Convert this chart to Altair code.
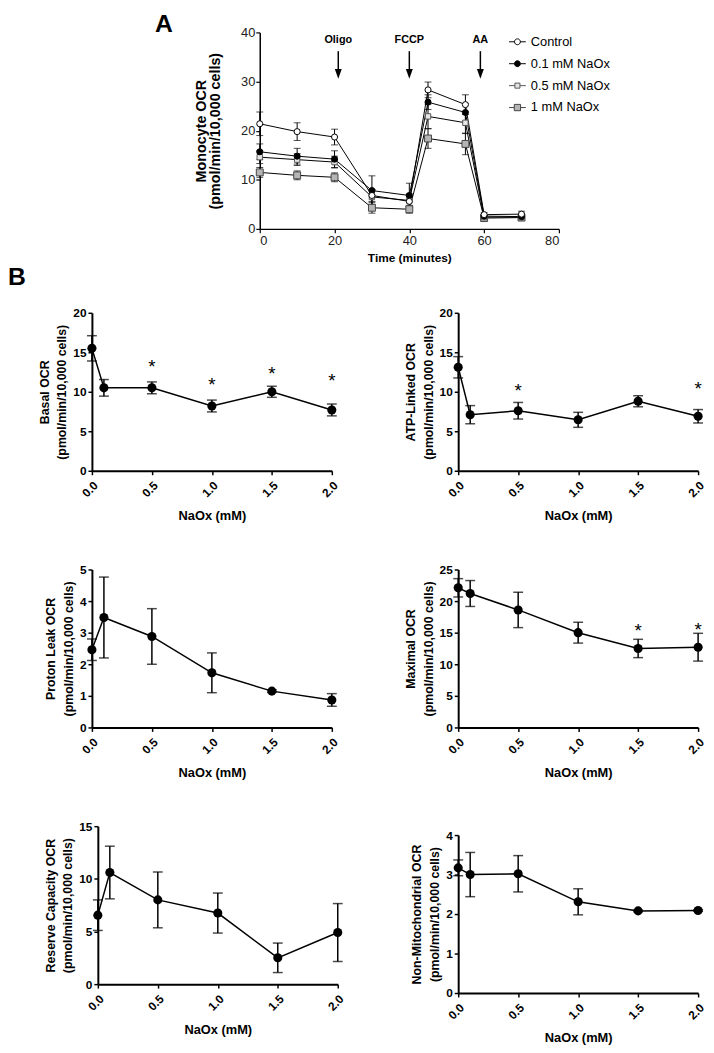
import altair as alt
import pandas as pd

FONT = "Liberation Sans"

# ---------------- Panel A data ----------------
times = [0, 10, 20, 30, 40, 45, 55, 60, 70]
series_names = ["Control", "0.1 mM NaOx", "0.5 mM NaOx", "1 mM NaOx"]
control_mean = [21.4, 19.8, 18.7, 6.8, 5.6, 28.3, 25.3, 2.9, 3.0]
control_err = [2.4, 1.8, 1.6, 1.2, 1.0, 1.6, 2.0, 0.4, 0.6]
naox01_mean = [15.7, 14.8, 14.2, 7.8, 6.8, 25.8, 23.7, 2.6, 2.5]
naox01_err = [1.6, 1.6, 1.7, 3.0, 2.5, 1.5, 1.8, 0.3, 0.3]
naox05_mean = [14.6, 14.1, 13.6, 6.5, 5.8, 22.9, 21.6, 2.4, 2.4]
naox05_err = [1.3, 1.2, 1.2, 1.5, 1.3, 2.5, 2.2, 0.3, 0.3]
naox1_mean = [11.5, 10.9, 10.5, 4.3, 4.0, 18.4, 17.3, 2.2, 2.3]
naox1_err = [1.0, 0.9, 0.9, 1.1, 0.8, 2.0, 2.2, 0.3, 0.3]
inj_labels = ["Oligo", "FCCP", "AA"]
inj_times = [21, 40, 59]

# ---------------- Panel B data ----------------
naox = [0.0, 0.1, 0.5, 1.0, 1.5, 2.0]
basal_mean = [15.5, 10.5, 10.5, 8.2, 10.0, 7.7]
basal_err = [1.6, 1.05, 0.75, 0.75, 0.7, 0.75]
basal_star = [None, None, 13.7, 11.5, 12.9, 12.0]
atp_mean = [13.1, 7.1, 7.6, 6.45, 8.8, 6.9]
atp_err = [1.35, 1.15, 1.05, 0.95, 0.7, 0.85]
atp_star = [None, None, 10.75, None, None, 10.95]
leak_mean = [2.46, 3.48, 2.88, 1.73, 1.15, 0.87]
leak_err = [0.34, 1.28, 0.88, 0.63, 0.04, 0.2]
max_mean = [22.1, 21.2, 18.6, 15.0, 12.5, 12.7]
max_err = [1.45, 2.05, 2.8, 1.65, 1.45, 2.2]
max_star = [None, None, None, None, 16.1, 16.2]
res_mean = [6.55, 10.6, 8.0, 6.75, 2.5, 4.9]
res_err = [1.45, 2.5, 2.65, 1.9, 1.4, 2.75]
nm_mean = [3.17, 3.0, 3.02, 2.31, 2.08, 2.09]
nm_err = [0.2, 0.56, 0.46, 0.33, 0.02, 0.02]

# ---------------- styles ----------------
marker_style = {
    "Control": dict(shape="circle", fill="white", stroke="black", size=38),
    "0.1 mM NaOx": dict(shape="circle", fill="black", stroke="black", size=38),
    "0.5 mM NaOx": dict(shape="square", fill="#e6e6e6", stroke="#555555", size=30),
    "1 mM NaOx": dict(shape="square", fill="#b5b5b5", stroke="#444444", size=49),
}
legend_paths = [
    "M-2,0H-0.7M0.7,0H2M-0.7,0A0.7,0.7,0,1,1,0.7,0A0.7,0.7,0,1,1,-0.7,0Z",
    "M-2,0H-0.7M0.7,0H2M-0.7,0A0.7,0.7,0,1,1,0.7,0A0.7,0.7,0,1,1,-0.7,0Z",
    "M-2,0H-0.6M0.6,0H2M-0.6,-0.6H0.6V0.6H-0.6Z",
    "M-2,0H-0.75M0.75,0H2M-0.75,-0.75H0.75V0.75H-0.75Z",
]

CELL_W, CELL_H = 243, 160
A_CELL_H = 184

# ---------------- Panel A ----------------
rows = []
for name, ms, es in zip(series_names,
                        [control_mean, naox01_mean, naox05_mean, naox1_mean],
                        [control_err, naox01_err, naox05_err, naox1_err]):
    for t, m, e in zip(times, ms, es):
        rows.append(dict(series=name, t=t, m=m, lo=m - e, hi=m + e))
dfA = pd.DataFrame(rows)
dfI = pd.DataFrame({"label": inj_labels, "t": inj_times})

xsA = alt.Scale(domain=[0, 80], range=[170, 473], nice=False)
ysA = alt.Scale(domain=[0, 40], range=[199, 0], nice=False)
axA = alt.Axis(values=[0, 20, 40, 60, 80], title="Time (minutes)", offset=15,
               domainWidth=1.5, tickWidth=1.2, tickSize=4, labelPadding=2,
               labelFontSize=13, labelFontWeight="normal", labelColor="#222222",
               titleFontSize=12, titleFontWeight="bold", titlePadding=5)
ayA = alt.Axis(values=[0, 10, 20, 30, 40], title=["Monocyte OCR", "(pmol/min/10,000 cells)"],
               offset=-170, domainWidth=1.5, tickWidth=1.2, tickSize=4, labelPadding=1,
               labelFontSize=13, labelFontWeight="normal", labelColor="#222222",
               titleFontSize=14.5, titleFontWeight="bold", titleLineHeight=14,
               titlePadding=18)

xA = alt.X("t:Q", scale=xsA, axis=axA)
baseA = alt.Chart(dfA)
a_rules = baseA.mark_rule(color="black", strokeWidth=1).encode(
    x=xA, y=alt.Y("lo:Q", scale=ysA, axis=ayA), y2="hi:Q")
a_lo = baseA.mark_tick(color="black", thickness=1, size=7, orient="horizontal").encode(
    x=xA, y=alt.Y("lo:Q", scale=ysA, axis=ayA))
a_hi = baseA.mark_tick(color="black", thickness=1, size=7, orient="horizontal").encode(
    x=xA, y=alt.Y("hi:Q", scale=ysA, axis=ayA))
a_lines = baseA.mark_line(color="black", strokeWidth=1).encode(
    x=xA, y=alt.Y("m:Q", scale=ysA, axis=ayA), detail="series:N")
a_pts = []
for name in ["1 mM NaOx", "0.5 mM NaOx", "0.1 mM NaOx", "Control"]:
    st = marker_style[name]
    a_pts.append(baseA.transform_filter(alt.datum.series == name).mark_point(
        shape=st["shape"], filled=True, fill=st["fill"], stroke=st["stroke"],
        strokeWidth=1, size=st["size"], opacity=1).encode(
        x=xA, y=alt.Y("m:Q", scale=ysA, axis=ayA)))

leg = alt.Legend(title=None, orient="none", legendX=424.5, legendY=3, symbolSize=72,
                 symbolStrokeWidth=1, labelFontSize=13, labelFont=FONT, labelColor="black",
                 labelOffset=7, rowPadding=8.2, padding=0, direction="vertical")
a_legend = baseA.transform_filter("datum.t < 0").mark_point(filled=True, opacity=1, strokeWidth=1).encode(
    x=xA, y=alt.Y("m:Q", scale=ysA, axis=ayA),
    shape=alt.Shape("series:N", scale=alt.Scale(domain=series_names, range=legend_paths), legend=leg),
    fill=alt.Fill("series:N", scale=alt.Scale(domain=series_names,
                  range=[marker_style[n]["fill"] for n in series_names]), legend=leg),
    stroke=alt.Stroke("series:N", scale=alt.Scale(domain=series_names,
                      range=[marker_style[n]["stroke"] for n in series_names]), legend=leg),
)

baseI = alt.Chart(dfI)
xI = alt.X("t:Q", scale=xsA, axis=axA)
inj_text = baseI.mark_text(fontSize=11, fontWeight="bold", baseline="middle", color="black").encode(
    x=xI, y=alt.value(7.3), text="label:N")
inj_shaft = baseI.mark_rule(color="black", strokeWidth=1.5).encode(
    x=xI, y=alt.value(19), y2=alt.value(40))
inj_head = baseI.mark_point(shape="M-0.7,-1L0.7,-1L0,1Z", filled=True, color="black",
                            size=100, opacity=1).encode(x=xI, y=alt.value(42))

letterA = alt.Chart(pd.DataFrame({"lab": ["A"]})).mark_text(
    fontSize=25, fontWeight="bold", align="left", baseline="alphabetic", color="black").encode(
    x=alt.value(64), y=alt.value(0), text="lab:N")

panelA = alt.layer(a_rules, a_lo, a_hi, a_lines, *a_pts, a_legend,
                   inj_shaft, inj_head, inj_text, letterA).properties(width=CELL_W, height=A_CELL_H)

blank = alt.Chart(pd.DataFrame({"v": [0]})).mark_point(opacity=0).encode(
    x=alt.value(0), y=alt.value(0)).properties(width=CELL_W, height=A_CELL_H)


# ---------------- Panel B ----------------
def panel_b(title_lines, mean, err, stars, ymax, ystep, x_shift=0, y_shift=0, letter=None):
    df = pd.DataFrame({"x": naox, "m": mean, "e": err})
    df["lo"] = df["m"] - df["e"]
    df["hi"] = df["m"] + df["e"]
    xs = alt.Scale(domain=[0, 2], range=[x_shift, x_shift + CELL_W], nice=False)
    ys = alt.Scale(domain=[0, ymax], range=[y_shift + CELL_H, y_shift], nice=False)
    xaxis = alt.Axis(values=[0, 0.5, 1, 1.5, 2], format=".1f", labelAngle=-45,
                     title="NaOx (mM)", offset=y_shift, domainWidth=2, tickWidth=1.5,
                     tickSize=4, labelPadding=5, labelFontSize=12, labelFontWeight="bold",
                     titleFontSize=13, titleFontWeight="bold", titlePadding=11)
    yaxis = alt.Axis(values=list(range(0, ymax + 1, ystep)), title=title_lines,
                     offset=-x_shift, domainWidth=2, tickWidth=1.5, tickSize=4,
                     labelPadding=2, labelFontSize=12, labelFontWeight="bold",
                     titleFontSize=12.5, titleFontWeight="bold", titleLineHeight=18,
                     titlePadding=4)
    x = alt.X("x:Q", scale=xs, axis=xaxis)
    base = alt.Chart(df)
    layers = [
        base.mark_rule(color="black", strokeWidth=1.5).encode(
            x=x, y=alt.Y("lo:Q", scale=ys, axis=yaxis), y2="hi:Q"),
        base.mark_tick(color="black", thickness=1.5, size=10, orient="horizontal").encode(
            x=x, y=alt.Y("lo:Q", scale=ys, axis=yaxis)),
        base.mark_tick(color="black", thickness=1.5, size=10, orient="horizontal").encode(
            x=x, y=alt.Y("hi:Q", scale=ys, axis=yaxis)),
        base.mark_line(color="black", strokeWidth=1.5).encode(
            x=x, y=alt.Y("m:Q", scale=ys, axis=yaxis)),
        base.mark_circle(color="black", size=85, opacity=1).encode(
            x=x, y=alt.Y("m:Q", scale=ys, axis=yaxis)),
    ]
    sx = [a for a, s in zip(naox, stars) if s is not None]
    sy = [s for s in stars if s is not None]
    if sx:
        dfs = pd.DataFrame({"x": sx, "s": sy, "t": ["*"] * len(sx)})
        layers.append(alt.Chart(dfs).mark_text(fontSize=19, baseline="middle", dy=5,
                                               color="black").encode(
            x=alt.X("x:Q", scale=xs, axis=xaxis), y=alt.Y("s:Q", scale=ys, axis=yaxis),
            text="t:N"))
    if letter:
        layers.append(alt.Chart(pd.DataFrame({"lab": [letter]})).mark_text(
            fontSize=25, fontWeight="bold", align="left", baseline="alphabetic",
            color="black").encode(x=alt.value(-85), y=alt.value(-27.7), text="lab:N"))
    return alt.layer(*layers).properties(width=CELL_W, height=CELL_H)


basal = panel_b(["Basal OCR", "(pmol/min/10,000 cells)"], basal_mean, basal_err, basal_star, 20, 5, letter="B")
atp = panel_b(["ATP-Linked OCR", "(pmol/min/10,000 cells)"], atp_mean, atp_err, atp_star, 20, 5)
leak = panel_b(["Proton  Leak OCR", "(pmol/min/10,000 cells)"], leak_mean, leak_err, [None] * 6, 5, 1)
maxi = panel_b(["Maximal OCR", "(pmol/min/10,000 cells)"], max_mean, max_err, max_star, 25, 5)
res = panel_b(["Reserve Capacity OCR", "(pmol/min/10,000 cells)"], res_mean, res_err, [None] * 6, 15, 5, x_shift=6)
nm = panel_b(["Non-Mitochondrial OCR", "(pmol/min/10,000 cells)"], nm_mean, nm_err, [None] * 6, 4, 1, y_shift=9)

chart = alt.concat(panelA, blank, basal, atp, leak, maxi, res, nm, columns=2,
                   spacing={"row": 100, "column": 128}, bounds="flush", align="each")
chart = chart.properties(padding={"top": -2, "left": 0, "right": 0, "bottom": 0}).configure(
    font=FONT).configure_view(stroke=None).configure_axis(
    grid=False, domainColor="black", tickColor="black", labelColor="black",
    titleColor="black", labelFont=FONT, titleFont=FONT)

chart.save("out.html", embed_options={"renderer": "svg", "actions": False})
